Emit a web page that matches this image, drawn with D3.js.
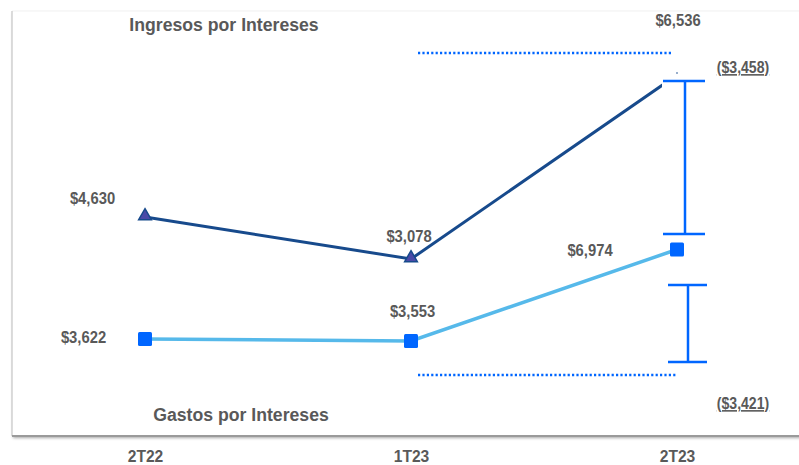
<!DOCTYPE html>
<html>
<head>
<meta charset="utf-8">
<script src="https://cdn.jsdelivr.net/npm/d3@7"></script>
<style>
  html, body { margin: 0; padding: 0; background: #fff; }
  svg { display: block; }
  text { font-family: "Liberation Sans", Arial, sans-serif; font-weight: bold; fill: #595959; }
</style>
</head>
<body>
<svg id="chart" width="799" height="465"></svg>
<script>
const categories = ["2T22", "1T23", "2T23"];
const ingresos = [4630, 3078, 6536];
const gastos = [3622, 3553, 6974];
const ingresosLabels = ["$4,630", "$3,078", "$6,536"];
const gastosLabels = ["$3,622", "$3,553", "$6,974"];
const diffLabels = ["($3,458)", "($3,421)"];
const titles = ["Ingresos por Intereses", "Gastos por Intereses"];

const W = 799, H = 465;
const svg = d3.select("#chart");

const defs = svg.append("defs");
const f = defs.append("filter").attr("id", "shadow").attr("x", "-5%").attr("y", "-5%").attr("width", "110%").attr("height", "110%");
f.append("feGaussianBlur").attr("in", "SourceAlpha").attr("stdDeviation", 1.5);
f.append("feOffset").attr("dx", 1).attr("dy", 2).attr("result", "ob");
f.append("feComponentTransfer").append("feFuncA").attr("type", "linear").attr("slope", 0.35);
const fm = f.append("feMerge");
fm.append("feMergeNode");
fm.append("feMergeNode").attr("in", "SourceGraphic");

defs.append("clipPath").attr("id", "topclip").append("rect")
  .attr("x", 0).attr("y", 0).attr("width", 662).attr("height", H);

// panel
svg.append("rect").attr("x", 12).attr("y", 11).attr("width", W - 12 + 5).attr("height", 425)
  .attr("fill", "#fff").attr("filter", "url(#shadow)");
svg.append("line").attr("x1", 12).attr("x2", W).attr("y1", 11).attr("y2", 11).attr("stroke", "#f2f2f2");
svg.append("line").attr("x1", 12).attr("x2", 12).attr("y1", 11).attr("y2", 436).attr("stroke", "#d0d0d0").attr("stroke-width", 1.5);
svg.append("line").attr("x1", 12).attr("x2", W).attr("y1", 436).attr("y2", 436).attr("stroke", "#9a9a9a").attr("stroke-width", 2);

const x = d3.scalePoint().domain(categories).range([145, 677]);
const yTop = d3.scaleLinear().domain([3000, 5000, 7000]).range([261.1, 207, 35.1]);
const yBot = d3.scaleLinear().domain([3000, 7000]).range([355.7, 248.8]);

// condensed text helper
function ctext(px, py, str, size, sx, extra) {
  const t = svg.append("text")
    .attr("transform", `translate(${px},${py}) scale(${sx},1)`)
    .attr("text-anchor", "middle").attr("font-size", size).text(str);
  if (extra) extra(t);
  return t;
}

// category axis
const xAxis = d3.axisBottom(x).tickSize(0).tickPadding(0);
const gx = svg.append("g").attr("transform", "translate(0,462)").call(xAxis);
gx.select(".domain").remove();
gx.selectAll("text").attr("dy", null).attr("y", 0)
  .attr("font-size", 17).attr("fill", "#595959")
  .attr("transform", "scale(0.92,1)")
  .style("font-family", "'Liberation Sans', Arial, sans-serif").style("font-weight", "bold");

// dotted reference lines
svg.append("line").attr("x1", 418).attr("x2", 672).attr("y1", 53).attr("y2", 53)
  .attr("stroke", "#0066ff").attr("stroke-width", 2.5).attr("stroke-dasharray", "2.2,2.2");
svg.append("line").attr("x1", 418).attr("x2", 676).attr("y1", 375).attr("y2", 375)
  .attr("stroke", "#0066ff").attr("stroke-width", 2.5).attr("stroke-dasharray", "2.2,2.2");

// lines
const lineTop = d3.line().x((d, i) => x(categories[i])).y(d => yTop(d));
const lineBot = d3.line().x((d, i) => x(categories[i])).y(d => yBot(d));

svg.append("path").datum(gastos).attr("d", lineBot).attr("fill", "none")
  .attr("stroke", "#56b9ea").attr("stroke-width", 3.5);
svg.append("path").datum(ingresos).attr("d", lineTop).attr("fill", "none")
  .attr("stroke", "#174a8c").attr("stroke-width", 3).attr("clip-path", "url(#topclip)");

// markers
svg.selectAll(".sq").data(gastos).enter().append("rect")
  .attr("x", (d, i) => x(categories[i]) - 7).attr("y", d => yBot(d) - 7)
  .attr("width", 14).attr("height", 14).attr("rx", 1.5)
  .attr("fill", "#0066ff");
const tri = d3.symbol().type(d3.symbolTriangle).size(70);
svg.selectAll(".tri").data(ingresos.slice(0, 2)).enter().append("path")
  .attr("d", tri)
  .attr("transform", (d, i) => `translate(${x(categories[i])},${yTop(d) - 1})`)
  .attr("fill", "#4a4aa8").attr("stroke", "#174a8c").attr("stroke-width", 1.5);
svg.append("circle").attr("cx", x(categories[2])).attr("cy", 73).attr("r", 0.8).attr("fill", "#174a8c");

// error-bar style brackets
function bracket(xc, y1, y2, x1, x2) {
  const g = svg.append("g").attr("stroke", "#0066ff").attr("stroke-width", 2.5);
  g.append("line").attr("x1", xc).attr("x2", xc).attr("y1", y1).attr("y2", y2);
  g.append("line").attr("x1", x1).attr("x2", x2).attr("y1", y1).attr("y2", y1);
  g.append("line").attr("x1", x1).attr("x2", x2).attr("y1", y2).attr("y2", y2);
}
bracket(685, 81, 234, 663, 705);
bracket(688, 285, 362, 668, 707);

// value labels
const tlab = [[92.5, 204], [409, 242], [678, 26]];
ingresosLabels.forEach((t, i) => ctext(tlab[i][0], tlab[i][1], t, 17, 0.87));
const blab = [[83.5, 343], [412.5, 317], [590, 256]];
gastosLabels.forEach((t, i) => ctext(blab[i][0], blab[i][1], t, 17, 0.87));
[[743, 73], [743, 409]].forEach((p, i) =>
  ctext(p[0], p[1], diffLabels[i], 16, 0.88, t => t.attr("text-decoration", "underline")));

ctext(224, 31, titles[0], 19, 0.93);
ctext(241, 421, titles[1], 19, 0.93);
</script>
</body>
</html>
